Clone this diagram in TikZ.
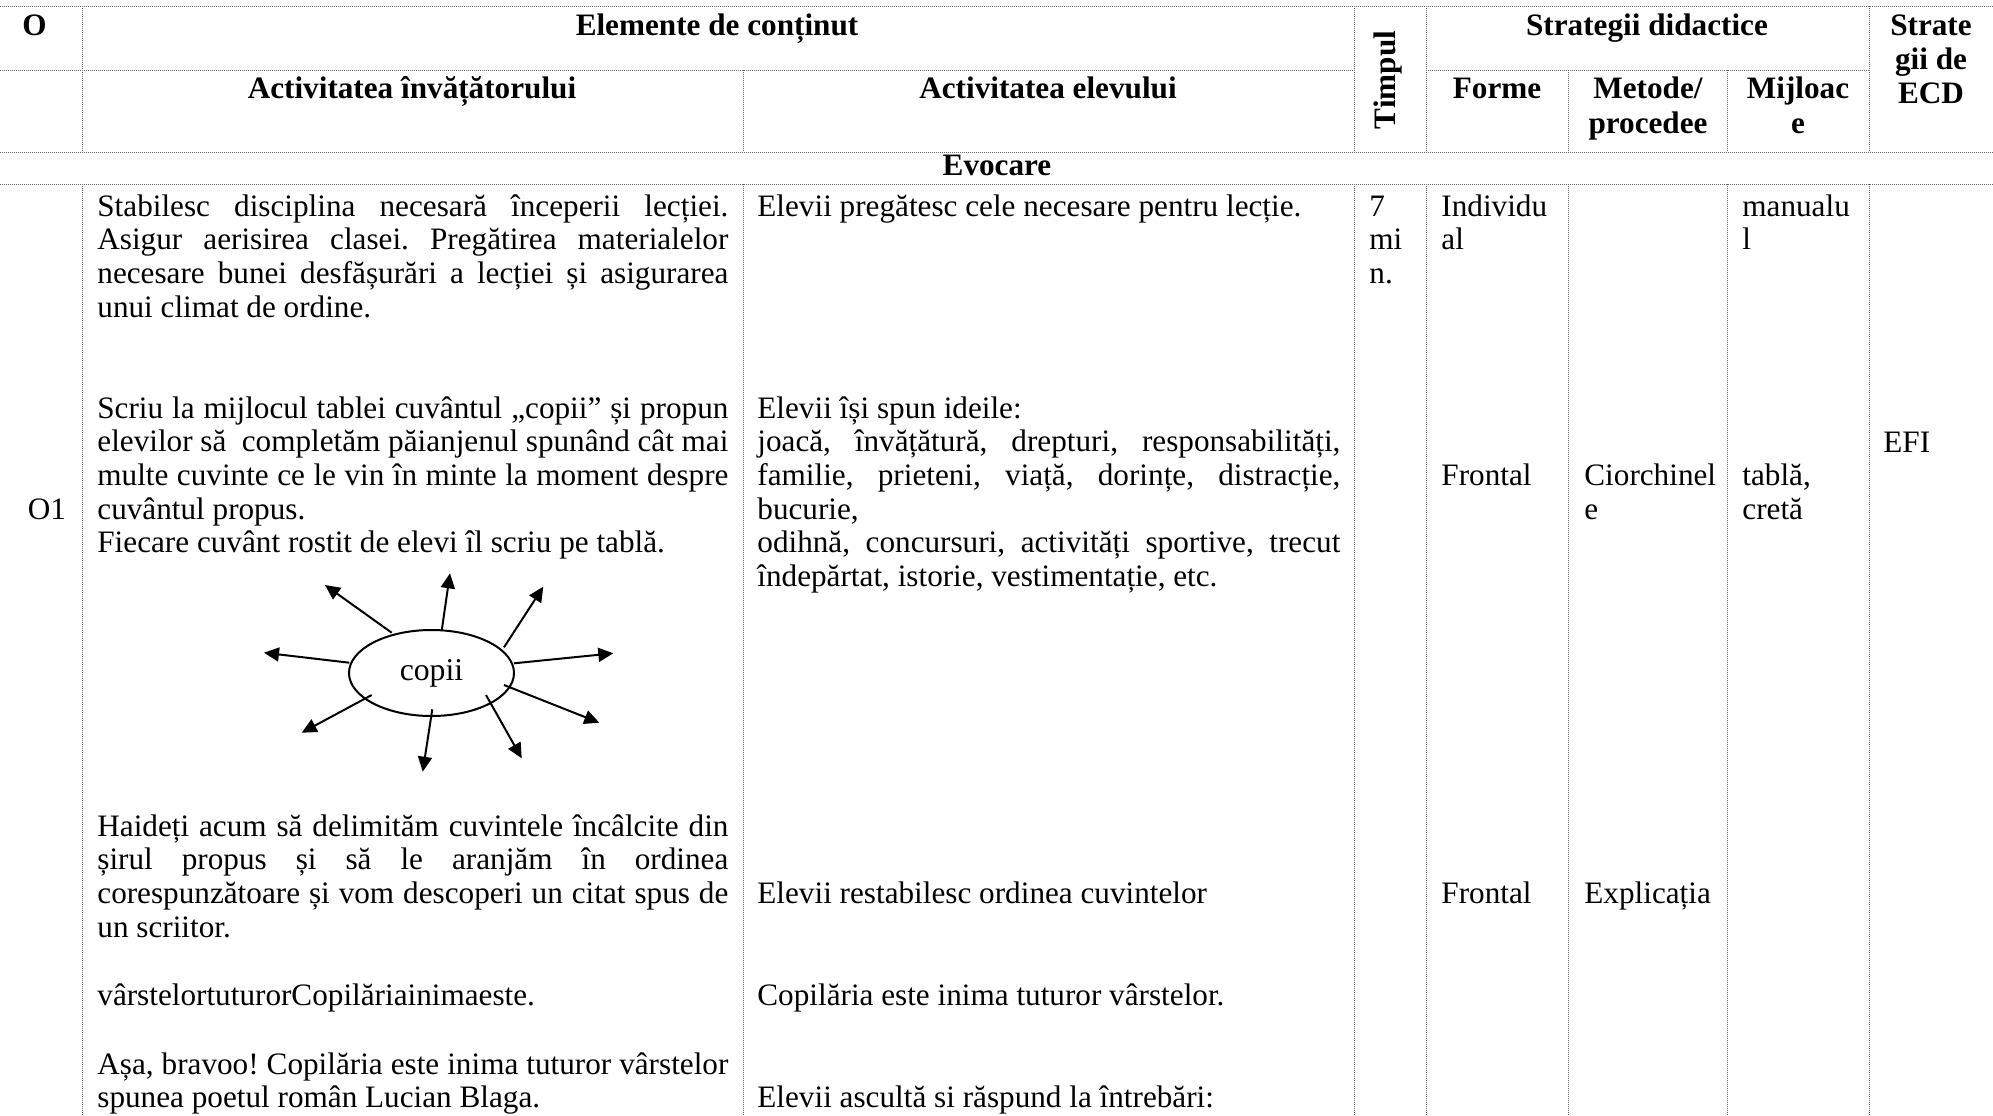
\documentclass[tikz,border=0pt]{standalone}
\usepackage{fontspec}
\setmainfont{Liberation Serif}
\usetikzlibrary{arrows.meta,shapes.geometric}
\frenchspacing
\newcommand\jusT[1]{\hbox to 315.5pt{#1}}
\newcommand\jusS[1]{\hbox to 291.5pt{#1}}
\newcommand\pln[1]{\hbox{#1}}
\newcommand\blk[1]{\vtop{\baselineskip=16.85pt\lineskiplimit=-100pt\relax #1}}
\tikzset{
  grid/.style={draw=black!60, line width=0.5pt, dash pattern=on 0.5pt off 0.5pt},
  txt/.style={anchor=base west, inner sep=0pt, font=\fontsize{15.6}{16.85}\selectfont\frenchspacing},
  hdr/.style={anchor=base, inner sep=0pt, font=\fontsize{15.6}{16.85}\selectfont\bfseries},
  arr/.style={-{Triangle[length=7.5pt,width=7pt]}, line width=1pt},
}
\begin{document}
\begin{tikzpicture}[x=0.5pt,y=-0.5pt]
\fill[white] (0,0) rectangle (1993,1115);
\useasboundingbox (0,0) rectangle (1993,1115);
% grid
\draw[grid] (0,6) -- (1993,6);
\draw[grid] (0,70) -- (1354,70);
\draw[grid] (1426,70) -- (1869,70);
\draw[grid] (0,152) -- (1993,152);
\draw[grid] (0,184) -- (1993,184);
\foreach \x in {82,1354,1426,1869} \draw[grid] (\x,6) -- (\x,152);
\foreach \x in {743,1568,1727} \draw[grid] (\x,70) -- (\x,152);
\foreach \x in {82,743,1354,1426,1568,1727,1869} \draw[grid] (\x,184) -- (\x,1115);
% header
\node[hdr, anchor=base west] (hO) at (22,35) {O};
\node[hdr] (hElem) at (717,35) {Elemente de conținut};
\node[hdr] (hAT) at (412,98) {Activitatea învățătorului};
\node[hdr] (hAE) at (1048,98) {Activitatea elevului};
\node[hdr, rotate=90, anchor=center] (hTimp) at (1388,80) {Timpul};
\node[hdr] (hStrat) at (1647,35) {Strategii didactice};
\node[hdr] (hForme) at (1497,98) {Forme};
\node[hdr] (hMet1) at (1648,98) {Metode/};
\node[hdr] (hMet2) at (1648,133) {procedee};
\node[hdr] (hMij1) at (1798,98) {Mijloac};
\node[hdr] (hMij2) at (1798,133) {e};
\node[hdr] (hEcd1) at (1931,35) {Strate};
\node[hdr] (hEcd2) at (1931,69) {gii de};
\node[hdr] (hEcd3) at (1931,103) {ECD};
\node[hdr] (hEvoc) at (997,175) {Evocare};
% body: teacher
\node[txt, anchor=base] (o1) at (47,519) {O1};
\node[txt] (t1) at (97,216) {\blk{%
\jusT{Stabilesc disciplina necesară începerii lecției.}
\jusT{Asigur aerisirea clasei. Pregătirea materialelor}
\jusT{necesare bunei desfășurări a lecției și asigurarea}
\pln{unui climat de ordine.}}};
\node[txt] (t2) at (97,418) {\blk{%
\jusT{Scriu la mijlocul tablei cuvântul „copii” și propun}
\jusT{elevilor să \ completăm păianjenul spunând cât mai}
\jusT{multe cuvinte ce le vin în minte la moment despre}
\pln{cuvântul propus.}
\pln{Fiecare cuvânt rostit de elevi îl scriu pe tablă.}}};
\node[txt] (t3) at (97,836) {\blk{%
\jusT{Haideți acum să delimităm cuvintele încâlcite din}
\jusT{șirul propus și să le aranjăm în ordinea}
\jusT{corespunzătoare și vom descoperi un citat spus de}
\pln{un scriitor.}}};
\node[txt] (t4) at (97,1005) {vârstelortuturorCopilăriainimaeste.};
\node[txt] (t5) at (97,1074) {\blk{%
\jusT{Așa, bravoo! Copilăria este inima tuturor vârstelor}
\pln{spunea poetul român Lucian Blaga.}}};
% body: students
\node[txt] (s1) at (757,216) {Elevii pregătesc cele necesare pentru lecție.};
\node[txt] (s2) at (757,418) {\blk{%
\pln{Elevii își spun ideile:}
\jusS{joacă, învățătură, drepturi, responsabilități,}
\jusS{familie, prieteni, viață, dorințe, distracție,}
\pln{bucurie,}
\jusS{odihnă, concursuri, activități sportive, trecut}
\pln{îndepărtat, istorie, vestimentație, etc.}}};
\node[txt] (s3) at (757,903.5) {Elevii restabilesc ordinea cuvintelor};
\node[txt] (s4) at (757,1005) {Copilăria este inima tuturor vârstelor.};
\node[txt] (s5) at (757,1107.8) {Elevii ascultă si răspund la întrebări:};
% right columns
\node[txt] (tm1) at (1369,216) {\blk{\pln{7}\pln{mi}\pln{n.}}};
\node[txt] (f1) at (1441,216) {\blk{\pln{Individu}\pln{al}}};
\node[txt] (f2) at (1441,485.5) {Frontal};
\node[txt] (f3) at (1441,903.5) {Frontal};
\node[txt] (m1) at (1584,485.5) {\blk{\pln{Ciorchinel}\pln{e}}};
\node[txt] (m2) at (1584,903.5) {Explicația};
\node[txt] (j1) at (1742,216) {\blk{\pln{manualu}\pln{l}}};
\node[txt] (j2) at (1742,485.5) {\blk{\pln{tablă,}\pln{cretă}}};
\node[txt] (e1) at (1883,452) {EFI};
% spider
\node[draw, ellipse, line width=1pt, minimum width=82.5pt, minimum height=43pt, inner sep=0pt,
      font=\fontsize{15.85}{18}\selectfont] (copii) at (431.5,673) {copii};
\coordinate (a1s) at (391.7,632.7); \coordinate (a1e) at (325,585);
\coordinate (a2s) at (441.7,630.7); \coordinate (a2e) at (450,573.3);
\coordinate (a3s) at (504,647.3);   \coordinate (a3e) at (543.3,586.7);
\coordinate (a4s) at (349.3,662.7); \coordinate (a4e) at (264,652.7);
\coordinate (a5s) at (514,663.3);   \coordinate (a5e) at (613.3,653.3);
\coordinate (a6s) at (371.7,695);   \coordinate (a6e) at (301.7,732.7);
\coordinate (a7s) at (432.3,709.3); \coordinate (a7e) at (422.7,771.7);
\coordinate (a8s) at (486,695);     \coordinate (a8e) at (521.7,758.3);
\coordinate (a9s) at (504,685);     \coordinate (a9e) at (599.3,722.7);
\foreach \i in {1,...,9} \draw[arr] (a\i s) -- (a\i e);
\end{tikzpicture}
\end{document}
